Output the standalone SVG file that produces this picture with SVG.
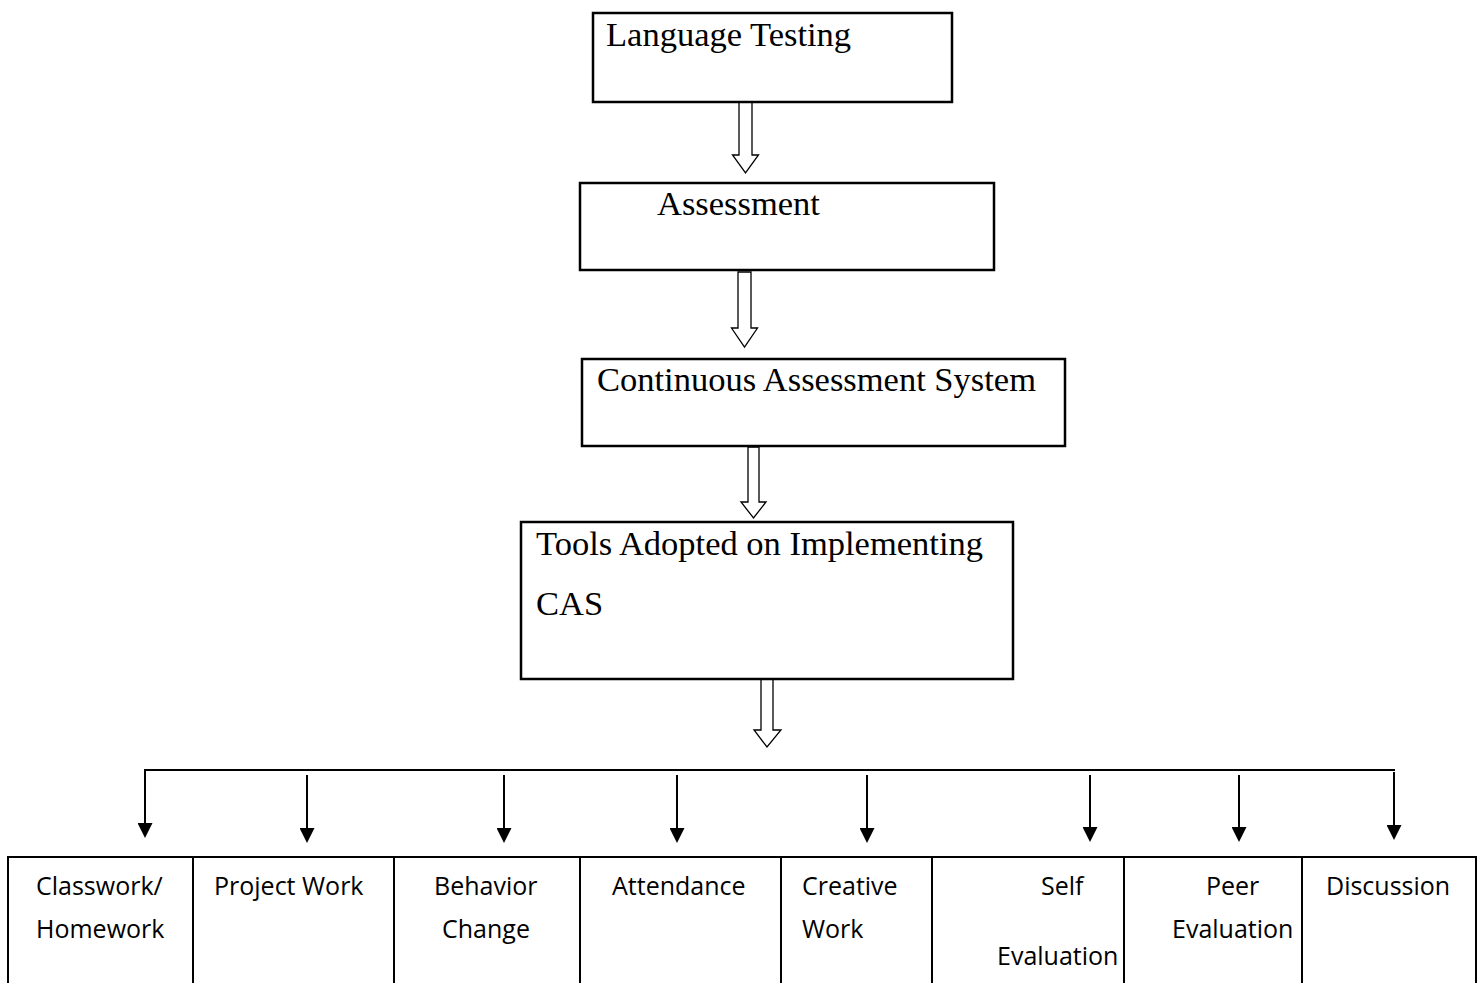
<svg xmlns="http://www.w3.org/2000/svg" width="1483" height="983" viewBox="0 0 1483 983">
<style>
.box{fill:#fff;stroke:#000;stroke-width:2.5}
.cell{fill:#fff;stroke:#000;stroke-width:2}
.serif{font-family:"Liberation Serif","Times New Roman",serif;font-size:34.5px;fill:#000}
.sans{font-family:"Open Sans","Noto Sans",sans-serif;font-size:25px;fill:#000}
.hollow{fill:#fff;stroke:#000;stroke-width:1.3;stroke-linejoin:miter}
.line{stroke:#000;stroke-width:2;fill:none}
</style>
<defs>
<marker id="ah" viewBox="0 -7.5 15 15" refX="0" refY="0" markerWidth="15" markerHeight="15" markerUnits="userSpaceOnUse" orient="auto">
<path d="M0,-7.5 L15,0 L0,7.5 z" fill="#000"/>
</marker>
</defs>
<rect width="1483" height="983" fill="#fff"/>

<g id="connectors">
<polygon class="hollow" points="739,102 752,102 752,155 758.5,155 745.5,173 732.5,155 739,155"/>
<polygon class="hollow" points="738,272 751,272 751,328 757.5,328 744.5,347 731.5,328 738,328"/>
<polygon class="hollow" points="748,447 759,447 759,502 766,502 753.5,518 741,502 748,502"/>
<polygon class="hollow" points="761,679 773,679 773,730 781,730 767,747 754,730 761,730"/>
<polyline class="line" points="145,823 145,770 1395,770"/>
<line class="line" x1="307" y1="775" x2="307" y2="828" marker-end="url(#ah)"/>
<line class="line" x1="145" y1="770" x2="145" y2="823" marker-end="url(#ah)"/>
<line class="line" x1="504" y1="775" x2="504" y2="828" marker-end="url(#ah)"/>
<line class="line" x1="677" y1="775" x2="677" y2="828" marker-end="url(#ah)"/>
<line class="line" x1="867" y1="775" x2="867" y2="828" marker-end="url(#ah)"/>
<line class="line" x1="1090" y1="775" x2="1090" y2="827" marker-end="url(#ah)"/>
<line class="line" x1="1239" y1="775" x2="1239" y2="827" marker-end="url(#ah)"/>
<line class="line" x1="1394" y1="772" x2="1394" y2="825" marker-end="url(#ah)"/>
</g>

<g id="language-testing">
<rect class="box" x="593" y="13" width="359" height="89"/>
<text class="serif" x="606" y="46">Language Testing</text>
</g>
<g id="assessment">
<rect class="box" x="580" y="183" width="414" height="87"/>
<text class="serif" x="657" y="215">Assessment</text>
</g>
<g id="cas">
<rect class="box" x="582" y="359" width="483" height="87"/>
<text class="serif" x="597" y="391">Continuous Assessment System</text>
</g>
<g id="tools">
<rect class="box" x="521" y="522" width="492" height="157"/>
<text class="serif" x="536" y="555">Tools Adopted on Implementing</text>
<text class="serif" x="536" y="615">CAS</text>
</g>

<g id="classwork">
<rect class="cell" x="8" y="857" width="185" height="140"/>
<text class="sans" x="36" y="895">Classwork/</text>
<text class="sans" x="36" y="938">Homework</text>
</g>
<g id="project-work">
<rect class="cell" x="193" y="857" width="201" height="140"/>
<text class="sans" x="214" y="895">Project Work</text>
</g>
<g id="behavior-change">
<rect class="cell" x="394" y="857" width="186" height="140"/>
<text class="sans" x="434" y="895">Behavior</text>
<text class="sans" x="442" y="938">Change</text>
</g>
<g id="attendance">
<rect class="cell" x="580" y="857" width="201" height="140"/>
<text class="sans" x="612" y="895">Attendance</text>
</g>
<g id="creative-work">
<rect class="cell" x="781" y="857" width="151" height="140"/>
<text class="sans" x="802" y="895">Creative</text>
<text class="sans" x="802" y="938">Work</text>
</g>
<g id="self-evaluation">
<rect class="cell" x="932" y="857" width="192" height="140"/>
<text class="sans" x="1041" y="895">Self</text>
<text class="sans" x="997" y="965">Evaluation</text>
</g>
<g id="peer-evaluation">
<rect class="cell" x="1124" y="857" width="178" height="140"/>
<text class="sans" x="1206" y="895">Peer</text>
<text class="sans" x="1172" y="938">Evaluation</text>
</g>
<g id="discussion">
<rect class="cell" x="1302" y="857" width="174" height="140"/>
<text class="sans" x="1326" y="895">Discussion</text>
</g>
</svg>
